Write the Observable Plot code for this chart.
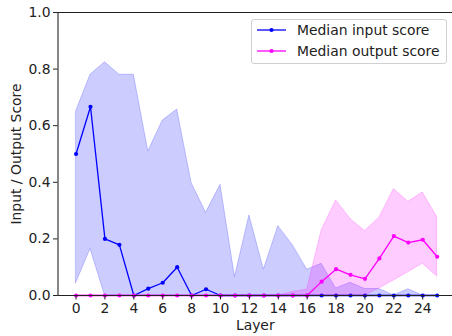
<!DOCTYPE html>
<html>
<head>
<meta charset="utf-8">
<script src="https://cdn.jsdelivr.net/npm/d3@7"></script>
<script src="https://cdn.jsdelivr.net/npm/@observablehq/plot@0.6"></script>
<style>
  html, body { margin: 0; padding: 0; background: #fff; }
  #wrap { position: relative; width: 452px; height: 336px; font-family: "DejaVu Sans", sans-serif; }
  .legend { position: absolute; left: 251px; top: 19px; width: 194px; height: 43px;
    border: 1px solid #d0d0d0; border-radius: 3px; background: rgba(255,255,255,0.8);
    font-family: "DejaVu Sans", sans-serif; font-size: 13.9px; color: #222; }
  .legend .row { position: absolute; left: 0; height: 20px; display: flex; align-items: center; white-space: nowrap; }
  .legend svg { margin-left: 5px; margin-right: 11px; }
</style>
</head>
<body>
<div id="wrap"></div>
<script>
const layers = [0,1,2,3,4,5,6,7,8,9,10,11,12,13,14,15,16,17,18,19,20,21,22,23,24,25];
const inputMedian = [0.50,0.667,0.20,0.179,0,0.024,0.045,0.10,0,0.022,0,0,0,0,0,0,0,0,0,0,0,0,0,0,0,0];
const inputLow    = [0.043,0.164,0,0,0,0,0,0,0,0,0,0,0,0,0,0,0,0,0,0,0,0,0,0,0,0];
const inputHigh   = [0.65,0.78,0.824,0.78,0.78,0.509,0.618,0.657,0.397,0.292,0.391,0.065,0.283,0.091,0.245,0.178,0.091,0.112,0.025,0.045,0.023,0.023,0,0.022,0,0];
const outputMedian = [0,0,0,0,0,0,0,0,0,0,0,0,0,0,0,0,0,0.049,0.093,0.073,0.059,0.131,0.210,0.187,0.197,0.137];
const outputLow    = [0,0,0,0,0,0,0,0,0,0,0,0,0,0,0,0,0,0,0,0,0,0.025,0.053,0.082,0.112,0.067];
const outputHigh   = [0,0,0,0,0,0,0,0,0,0,0,0,0,0,0,0.012,0.021,0.23,0.336,0.27,0.228,0.275,0.376,0.331,0.364,0.277];
const xTicks = [0,2,4,6,8,10,12,14,16,18,20,22,24];
const yTicks = [0,0.2,0.4,0.6,0.8,1.0];
const seriesNames = ["Median input score", "Median output score"];
const seriesColors = ["blue", "magenta"];
const xLabel = "Layer";
const yLabel = "Input / Output Score";

const inputData = layers.map((l, i) => ({layer: l, med: inputMedian[i], lo: inputLow[i], hi: inputHigh[i]}));
const outputData = layers.map((l, i) => ({layer: l, med: outputMedian[i], lo: outputLow[i], hi: outputHigh[i]}));

const axisColor = "#222";

const chart = Plot.plot({
  width: 452,
  height: 336,
  marginLeft: 57.5,
  marginRight: 0,
  marginTop: 12,
  marginBottom: 41,
  style: {fontFamily: "DejaVu Sans, sans-serif", fontSize: "13.9px", color: axisColor, background: "white", overflow: "visible"},
  x: {domain: [-1.25, 26.06], ticks: xTicks},
  y: {domain: [0, 1], ticks: yTicks},
  marks: [
    Plot.areaY(inputData, {x: "layer", y1: "lo", y2: "hi", fill: seriesColors[0], fillOpacity: 0.2, stroke: seriesColors[0], strokeOpacity: 0.2, strokeWidth: 1}),
    Plot.line(inputData, {x: "layer", y: "med", stroke: seriesColors[0], strokeWidth: 1.3}),
    Plot.dot(inputData, {x: "layer", y: "med", r: 2.1, fill: seriesColors[0]}),
    Plot.areaY(outputData, {x: "layer", y1: "lo", y2: "hi", fill: seriesColors[1], fillOpacity: 0.2, stroke: seriesColors[1], strokeOpacity: 0.2, strokeWidth: 1}),
    Plot.line(outputData, {x: "layer", y: "med", stroke: seriesColors[1], strokeWidth: 1.3}),
    Plot.dot(outputData, {x: "layer", y: "med", r: 2.1, fill: seriesColors[1]}),
    Plot.frame({anchor: "left", stroke: axisColor, strokeWidth: 1.1}),
    Plot.frame({anchor: "bottom", stroke: axisColor, strokeWidth: 1.1}),
    Plot.frame({anchor: "top", stroke: axisColor, strokeWidth: 1.1}),
    Plot.axisX({ticks: xTicks, tickSize: 4.5, tickPadding: 3, label: null, stroke: axisColor, fill: axisColor}),
    Plot.axisY({ticks: yTicks, tickSize: 4.5, tickPadding: 3, tickFormat: d3.format(".1f"), label: null, stroke: axisColor, fill: axisColor}),
    Plot.text([xLabel], {text: d => d, frameAnchor: "bottom", dy: 30, textAnchor: "middle", lineAnchor: "middle", fill: axisColor, fontSize: 13.9}),
    Plot.text([yLabel], {text: d => d, frameAnchor: "left", dx: -41.5, rotate: -90, textAnchor: "middle", lineAnchor: "middle", fill: axisColor, fontSize: 13.9})
  ]
});

const wrap = document.getElementById("wrap");
wrap.appendChild(chart);

const legend = document.createElement("div");
legend.className = "legend";
seriesNames.forEach((name, i) => {
  const row = document.createElement("div");
  row.className = "row";
  row.style.top = (0 + i * 20.7) + "px";
  const ns = "http://www.w3.org/2000/svg";
  const s = document.createElementNS(ns, "svg");
  s.setAttribute("width", 29); s.setAttribute("height", 10);
  const ln = document.createElementNS(ns, "line");
  ln.setAttribute("x1", 0); ln.setAttribute("x2", 29); ln.setAttribute("y1", 5); ln.setAttribute("y2", 5);
  ln.setAttribute("stroke", seriesColors[i]); ln.setAttribute("stroke-width", 1.3);
  const c = document.createElementNS(ns, "circle");
  c.setAttribute("cx", 14.5); c.setAttribute("cy", 5); c.setAttribute("r", 2.1); c.setAttribute("fill", seriesColors[i]);
  s.appendChild(ln); s.appendChild(c);
  const t = document.createElement("span");
  t.textContent = name;
  row.appendChild(s); row.appendChild(t);
  legend.appendChild(row);
});
wrap.appendChild(legend);
</script>
</body>
</html>
